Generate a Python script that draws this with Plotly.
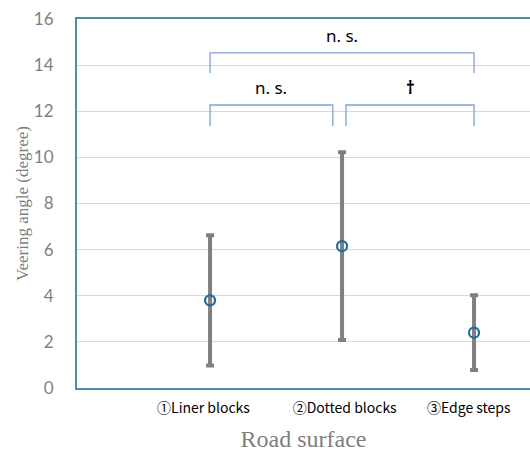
import plotly.graph_objects as go

categories = ["①Liner blocks", "②Dotted blocks", "③Edge steps"]
positions = [1, 2, 3]
label_positions = [0.95, 2.02, 2.96]
means = [3.8, 6.15, 2.4]
sds = [2.82, 4.07, 1.62]

# significance brackets: (x_start, x_end, y_top, y_bottom, label)
bracket_x0 = [1.0, 1.0, 2.03]
bracket_x1 = [3.0, 1.93, 3.0]
bracket_top = [14.53, 12.27, 12.27]
bracket_bottom = [13.66, 11.36, 11.36]
bracket_labels = ["n. s.", "n. s.", "<b>†</b>"]

fig = go.Figure()

fig.add_trace(go.Scatter(
    x=positions, y=means, mode="markers",
    marker=dict(symbol="circle-open", size=10, color="#1f6e96", line=dict(width=2.2)),
    error_y=dict(type="data", array=sds, visible=True, color="#808080", thickness=4, width=4),
    showlegend=False, hoverinfo="skip",
))

for x0, x1, yt, yb, lab in zip(bracket_x0, bracket_x1, bracket_top, bracket_bottom, bracket_labels):
    fig.add_trace(go.Scatter(
        x=[x0, x0, x1, x1], y=[yb, yt, yt, yb], mode="lines",
        line=dict(color="#7ea3d4", width=1.3),
        showlegend=False, hoverinfo="skip",
    ))
    fig.add_annotation(
        x=(x0 + x1) / 2, y=yt, text=lab, showarrow=False, yanchor="bottom", yshift=4,
        font=dict(family="Noto Sans, sans-serif", size=17, color="#000000"),
    )

axis_line = "#5589a8"

fig.update_layout(
    width=530, height=455,
    margin=dict(l=77, r=0, t=19, b=67, autoexpand=False),
    plot_bgcolor="white", paper_bgcolor="white",
    xaxis=dict(
        range=[-0.008, 3.424], tickvals=label_positions, ticktext=categories,
        showgrid=False, zeroline=False, showline=True, mirror=True,
        linecolor=axis_line, linewidth=2, ticks="", automargin=False,
        ticklabelstandoff=6,
        tickfont=dict(family="Noto Sans CJK JP, sans-serif", size=14, color="#000000"),
        title=dict(text="Road surface", standoff=14,
                   font=dict(family="Liberation Serif, serif", size=24, color="#7f7f7f")),
    ),
    yaxis=dict(
        range=[0, 16], tickvals=list(range(0, 17, 2)),
        showgrid=True, gridcolor="#d9d9d9", gridwidth=1, zeroline=False,
        showline=True, linecolor=axis_line, linewidth=2, ticks="", automargin=False,
        ticklabelstandoff=18,
        tickfont=dict(family="Lato, Noto Sans, sans-serif", size=17, color="#7f7f7f"),
        title=dict(text="Veering angle (degree)", standoff=1,
                   font=dict(family="Liberation Serif, serif", size=17, color="#7f7f7f")),
    ),
)

fig.write_html(
    "out.html",
    config={"displayModeBar": False},
    post_script="document.body.style.margin='0';document.body.style.overflow='hidden';",
)
